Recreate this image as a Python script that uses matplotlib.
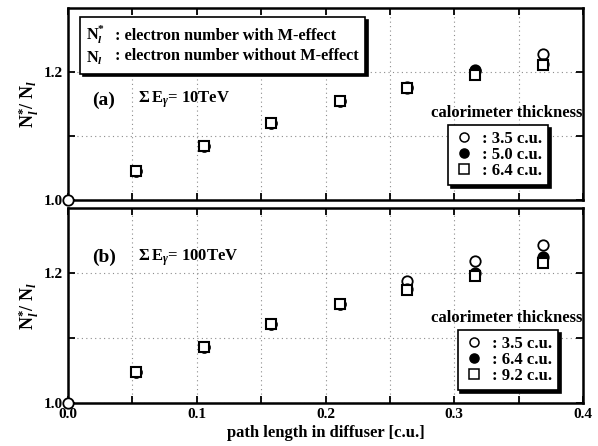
import numpy as np
import matplotlib
matplotlib.use("Agg")
import matplotlib.pyplot as plt
from matplotlib.lines import Line2D
from matplotlib.ticker import MultipleLocator

plt.rcParams.update({
    "font.family": "Liberation Serif", "font.weight": "bold", "font.size": 11,
    "axes.labelweight": "bold",
    "mathtext.fontset": "custom",
    "mathtext.rm": "Liberation Serif:bold",
    "mathtext.bf": "Liberation Serif:bold",
    "mathtext.it": "Liberation Serif:italic:bold",
    "axes.linewidth": 1.8,
})

# path length in diffuser [c.u.]
path_len = [0.0, 0.053, 0.106, 0.158, 0.211, 0.263, 0.316, 0.369]

# (a) sum E_gamma = 10 TeV
a_35 = [1.0, 1.046, 1.084, 1.120, 1.155, 1.176, 1.201, 1.228]
a_50 = [1.0, 1.046, 1.084, 1.120, 1.155, 1.175, 1.203, 1.212]
a_64 = [1.0, 1.046, 1.084, 1.120, 1.155, 1.175, 1.196, 1.211]
a_labels = [": 3.5 c.u.", ": 5.0 c.u.", ": 6.4 c.u."]

# (b) sum E_gamma = 100 TeV
b_35 = [1.0, 1.047, 1.086, 1.122, 1.153, 1.188, 1.218, 1.243]
b_64 = [1.0, 1.047, 1.086, 1.121, 1.152, 1.176, 1.200, 1.224]
b_92 = [1.0, 1.047, 1.086, 1.121, 1.152, 1.174, 1.195, 1.215]
b_labels = [": 3.5 c.u.", ": 6.4 c.u.", ": 9.2 c.u."]

x_ticks = [0.0, 0.1, 0.2, 0.3, 0.4]
x_ticklabels = ["0.0", "0.1", "0.2", "0.3", "0.4"]

ylab = r"$\mathrm{N}_{\mathit{l}}^{*}$/ $\mathrm{N}_{\mathit{l}}$"

fig = plt.figure(figsize=(5.98, 4.46), dpi=100)
ax_a = fig.add_axes([0.1137, 0.5516, 0.8613, 0.4304])
ax_b = fig.add_axes([0.1137, 0.0964, 0.8613, 0.4372])

styles = [
    dict(marker="o", mfc="white", mec="black", ms=7.5, mew=1.3),
    dict(marker="o", mfc="black", mec="black", ms=7.5, mew=1.3),
    dict(marker="s", mfc="white", mec="black", ms=7.5, mew=1.5),
]
shadow = {"color": "black", "alpha": 1.0}

title_y = {"a": 0.52, "b": 0.745}
cal_y = {"a": 0.455, "b": 0.435}
leg_box = {"a": (0.932, 0.078), "b": (0.951, 0.067)}


def setup(ax, title, energy, series, labels, show_x):
    for i, (ys, st) in enumerate(zip(series, styles)):
        # the common origin point is drawn once, as an open circle
        start = 0 if i == 0 else 1
        ax.plot(path_len[start:], ys[start:], linestyle="none",
                clip_on=False, zorder=3, **st)
    ax.set_xlim(0, 0.4)
    ax.set_ylim(1.0, 1.3)
    ax.set_xticks(x_ticks)
    ax.xaxis.set_minor_locator(MultipleLocator(0.05))
    ax.set_yticks([1.0, 1.1, 1.2])
    ax.set_yticklabels(["1.0", "", "1.2"])
    ax.tick_params(which="both", direction="in", top=True, right=True,
                   length=5, width=1.3, labelsize=11)
    ax.grid(True, which="both", axis="x", linestyle=(0, (1, 3)),
            color="0.55", linewidth=0.8)
    ax.grid(True, which="major", axis="y", linestyle=(0, (1, 3)),
            color="0.55", linewidth=0.8)
    ax.set_axisbelow(True)
    if show_x:
        ax.set_xticklabels(x_ticklabels)
        ax.set_xlabel("path length in diffuser [c.u.]", fontsize=12, labelpad=3)
    else:
        ax.tick_params(labelbottom=False)
    ax.set_ylabel(ylab, fontsize=13, labelpad=2)
    ax.text(0.047, title_y[title], f"({title})", transform=ax.transAxes,
            fontsize=14, va="center")
    ax.text(0.136, title_y[title], r"$\mathrm{\Sigma\,E}_{\gamma}$" + f"= {energy}",
            transform=ax.transAxes, fontsize=12, va="center")
    ax.text(0.998, cal_y[title], "calorimeter thickness", transform=ax.transAxes,
            ha="right", va="center", fontsize=12)
    handles = [Line2D([], [], linestyle="none", **dict(st, ms=6.5, mew=1.1))
               for st in styles]
    leg = ax.legend(handles, labels, loc="lower right",
                    bbox_to_anchor=leg_box[title], borderaxespad=0,
                    fontsize=12, frameon=True, fancybox=False, shadow=shadow,
                    edgecolor="black", framealpha=1, handlelength=1.2,
                    handletextpad=0.5, labelspacing=0.0, borderpad=0.35)
    leg.get_frame().set_linewidth(1.2)
    return leg


leg_a = setup(ax_a, "a", "10TeV", [a_35, a_50, a_64], a_labels, False)
setup(ax_b, "b", "100TeV", [b_35, b_64, b_92], b_labels, True)

# definition box for the two electron numbers
blank = [Line2D([], [], linestyle="none")] * 4
def_labels = [r"$\mathrm{N}_{\mathit{l}}^{*}$", r"$\mathrm{N}_{\mathit{l}}$",
              ": electron number with M-effect",
              ": electron number without M-effect"]
def_leg = ax_a.legend(blank, def_labels, ncol=2, loc="upper left",
                      bbox_to_anchor=(0.023, 0.953), borderaxespad=0,
                      fontsize=11.7, frameon=True, fancybox=False,
                      shadow=shadow, edgecolor="black", framealpha=1,
                      handlelength=0, handletextpad=0, columnspacing=0.6,
                      labelspacing=0.25, borderpad=0.4)
def_leg.get_frame().set_linewidth(1.2)
ax_a.add_artist(leg_a)

fig.savefig("out.png", dpi=100)
